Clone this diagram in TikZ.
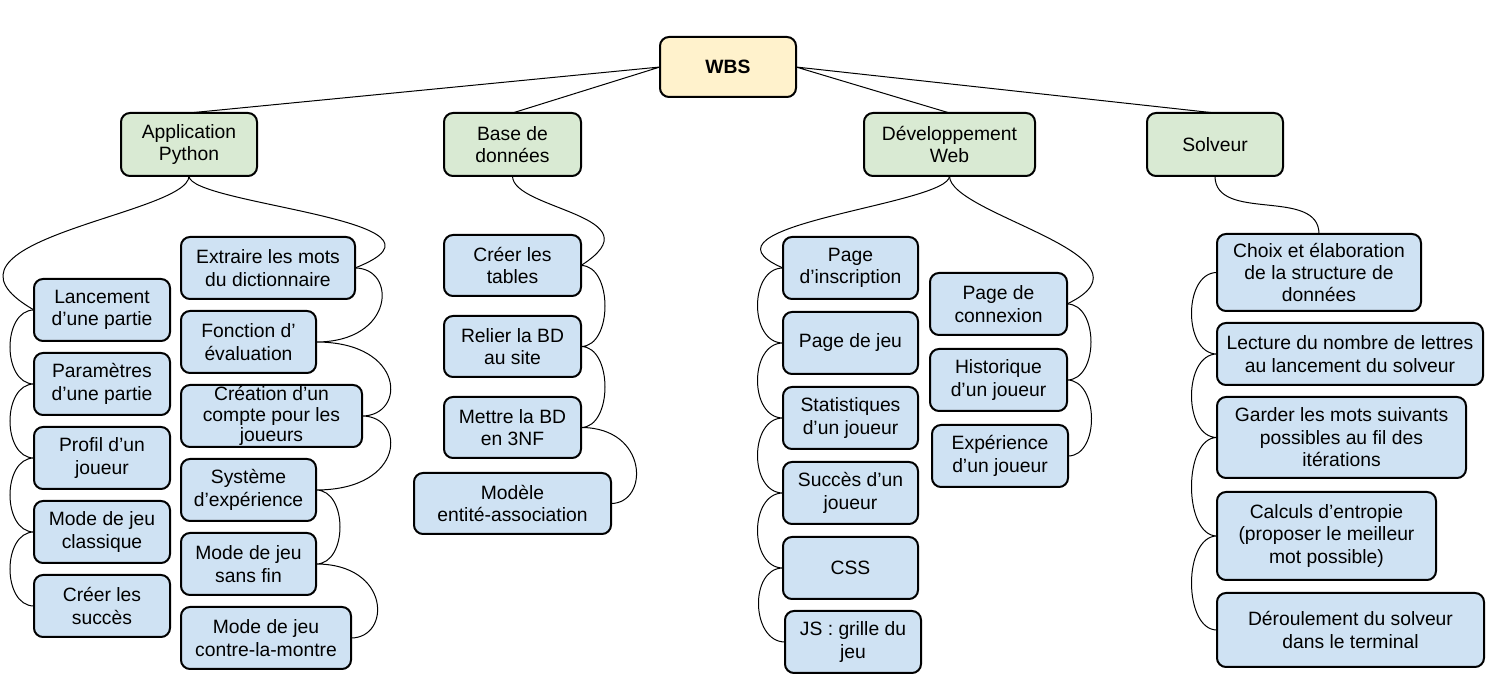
\documentclass[tikz,border=0pt]{standalone}
\usepackage{fontspec}
\setmainfont{Liberation Sans}
\usetikzlibrary{positioning}

\definecolor{wbsyellow}{HTML}{FFF2CC}
\definecolor{wbsgreen}{HTML}{D9EAD3}
\definecolor{wbsblue}{HTML}{CFE2F3}

\tikzset{
	box/.style={draw=black, line width=1pt, rounded corners=4.5pt, align=center, outer sep=0pt,
		font=\fontsize{9.65}{11.2}\selectfont, minimum height=31pt, inner sep=2pt},
	root/.style={box, fill=wbsyellow, font=\fontsize{9.65}{11.2}\selectfont\bfseries,
		minimum width=68pt, minimum height=30pt},
	branch/.style={box, fill=wbsgreen, minimum height=31.5pt},
	task/.style={box, fill=wbsblue},
	link/.style={line width=0.5pt}
}

\begin{document}
\begin{tikzpicture}[x=0.5pt, y=-0.5pt]
	\useasboundingbox (0,0) rectangle (1496,689);

	\node[root] (wbs) at (728,67) {WBS};
	\node[branch, minimum width=68pt] (app) at (189,144.5) {Application\\Python};
	\node[branch, minimum width=68.5pt] (base) at (512.5,144.5) {Base de\\données};
	\node[branch, minimum width=85.5pt] (web) at (949.5,144.5) {Développement\\Web};
	\node[branch, minimum width=68pt] (solv) at (1215,144.5) {Solveur};

	% Application Python
	\node[task, minimum width=68pt, anchor=north west] (lanc) at (34,279) {Lancement\\d’une partie};
	\node[task, minimum width=68pt, below right=6pt and 0pt of lanc.south west] (param) {Paramètres\\d’une partie};
	\node[task, minimum width=68pt, below right=6pt and 0pt of param.south west] (profil) {Profil d’un\\joueur};
	\node[task, minimum width=68pt, below right=6pt and 0pt of profil.south west] (classique) {Mode de jeu\\classique};
	\node[task, minimum width=68pt, below right=6pt and 0pt of classique.south west] (succes) {Créer les\\succès};

	\node[task, minimum width=87pt, anchor=north west] (extraire) at (181,237) {Extraire les mots\\du dictionnaire};
	\node[task, minimum width=67.5pt, below right=6pt and 0pt of extraire.south west] (eval) {Fonction d’\\évaluation};
	\node[task, minimum width=90.5pt, inner ysep=0pt, font=\fontsize{9.65}{10.3}\selectfont,
		below right=6pt and 0pt of eval.south west] (compte) {Création d’un\\compte pour les\\joueurs};
	\node[task, minimum width=67.5pt, below right=6pt and 0pt of compte.south west] (xp) {Système\\d’expérience};
	\node[task, minimum width=67.5pt, below right=6pt and 0pt of xp.south west] (sansfin) {Mode de jeu\\sans fin};
	\node[task, minimum width=85pt, below right=6pt and 0pt of sansfin.south west] (chrono) {Mode de jeu\\contre-la-montre};

	% Base de donnees
	\node[task, minimum width=68.5pt, minimum height=30.5pt, anchor=north] (tables) at (512.5,235) {Créer les\\tables};
	\node[task, minimum width=68.5pt, minimum height=30.5pt, below=10pt of tables] (relier) {Relier la BD\\au site};
	\node[task, minimum width=68.5pt, minimum height=30.5pt, below=10pt of relier] (nf) {Mettre la BD\\en 3NF};
	\node[task, minimum width=98.5pt, minimum height=30.5pt, below=7.5pt of nf] (mcd) {Modèle\\entité-association};

	% Developpement Web
	\node[task, minimum width=67.5pt, anchor=north west] (inscr) at (783,237) {Page\\d’inscription};
	\node[task, minimum width=67.5pt, below right=6.5pt and 0pt of inscr.south west] (jeu) {Page de jeu};
	\node[task, minimum width=67.5pt, below right=6.5pt and 0pt of jeu.south west] (stats) {Statistiques\\d’un joueur};
	\node[task, minimum width=67.5pt, below right=6.5pt and 0pt of stats.south west] (succesj) {Succès d’un\\joueur};
	\node[task, minimum width=67.5pt, below right=6.5pt and 0pt of succesj.south west] (css) {CSS};
	\node[task, minimum width=68pt, below right=6pt and 1pt of css.south west] (js) {JS : grille du\\jeu};

	\node[task, minimum width=68.5pt, anchor=north west] (connex) at (930,273) {Page de\\connexion};
	\node[task, minimum width=68.5pt, below right=7pt and 0pt of connex.south west] (histo) {Historique\\d’un joueur};
	\node[task, minimum width=68pt, below right=7pt and 1pt of histo.south west] (xpj) {Expérience\\d’un joueur};

	% Solveur
	\node[task, minimum width=102pt, minimum height=38.5pt, anchor=north west] (choix) at (1217,234) {Choix et élaboration\\de la structure de\\données};
	\node[task, minimum width=133pt, below right=6pt and 0pt of choix.south west] (lecture) {Lecture du nombre de lettres\\au lancement du solveur};
	\node[task, minimum width=124.5pt, minimum height=40.5pt, below right=6pt and 0pt of lecture.south west] (garder) {Garder les mots suivants\\possibles au fil des\\itérations};
	\node[task, minimum width=109.5pt, minimum height=44pt, below right=7pt and 0pt of garder.south west] (entropie) {Calculs d’entropie\\(proposer le meilleur\\mot possible)};
	\node[task, minimum width=133.5pt, minimum height=37pt, below right=6.5pt and 0pt of entropie.south west] (deroul) {Déroulement du solveur\\dans le terminal};

	\draw[link] (wbs.west) -- (app.north)
		(wbs.west) -- (base.north)
		(wbs.east) -- (web.north)
		(wbs.east) -- (solv.north);

	\draw[link] (app.south) .. controls +(0,39) and +(-122,-70) .. (lanc.west);
	\draw[link] (app.south) .. controls +(0,29) and +(122,-48) .. (extraire.east);
	\draw[link] (base.south) .. controls +(0,34) and +(79,-50) .. (tables.east);
	\draw[link] (web.south) .. controls +(0,29) and +(-100,-43) .. (inscr.west);
	\draw[link] (web.south) .. controls +(0,39) and +(100,-48) .. (connex.east);
	\draw[link] (solv.south) .. controls +(0,47) and +(0,-47) .. (choix.north);

	\draw[link] (lanc.west) .. controls +(-32,0) and +(-32,0) .. (param.west)
		.. controls +(-32,0) and +(-32,0) .. (profil.west)
		.. controls +(-32,0) and +(-32,0) .. (classique.west)
		.. controls +(-32,0) and +(-32,0) .. (succes.west);
	\draw[link] (extraire.east) .. controls +(42,0) and +(79,0) .. (eval.east)
		.. controls +(90,0) and +(44,0) .. (compte.east)
		.. controls +(44,0) and +(90,0) .. (xp.east)
		.. controls +(32,0) and +(32,0) .. (sansfin.east)
		.. controls +(75,0) and +(40,0) .. (chrono.east);
	\draw[link] (tables.east) .. controls +(32,0) and +(32,0) .. (relier.east)
		.. controls +(32,0) and +(32,0) .. (nf.east)
		.. controls +(68,0) and +(38,0) .. (mcd.east);
	\draw[link] (inscr.west) .. controls +(-34,0) and +(-34,0) .. (jeu.west)
		.. controls +(-34,0) and +(-34,0) .. (stats.west)
		.. controls +(-34,0) and +(-34,0) .. (succesj.west)
		.. controls +(-34,0) and +(-34,0) .. (css.west)
		.. controls +(-34,0) and +(-34,0) .. (js.west);
	\draw[link] (connex.east) .. controls +(32,0) and +(32,0) .. (histo.east)
		.. controls +(32,0) and +(32,0) .. (xpj.east);
	\draw[link] (choix.west) .. controls +(-34,0) and +(-34,0) .. (lecture.west)
		.. controls +(-34,0) and +(-34,0) .. (garder.west)
		.. controls +(-34,0) and +(-34,0) .. (entropie.west)
		.. controls +(-34,0) and +(-34,0) .. (deroul.west);
\end{tikzpicture}
\end{document}
